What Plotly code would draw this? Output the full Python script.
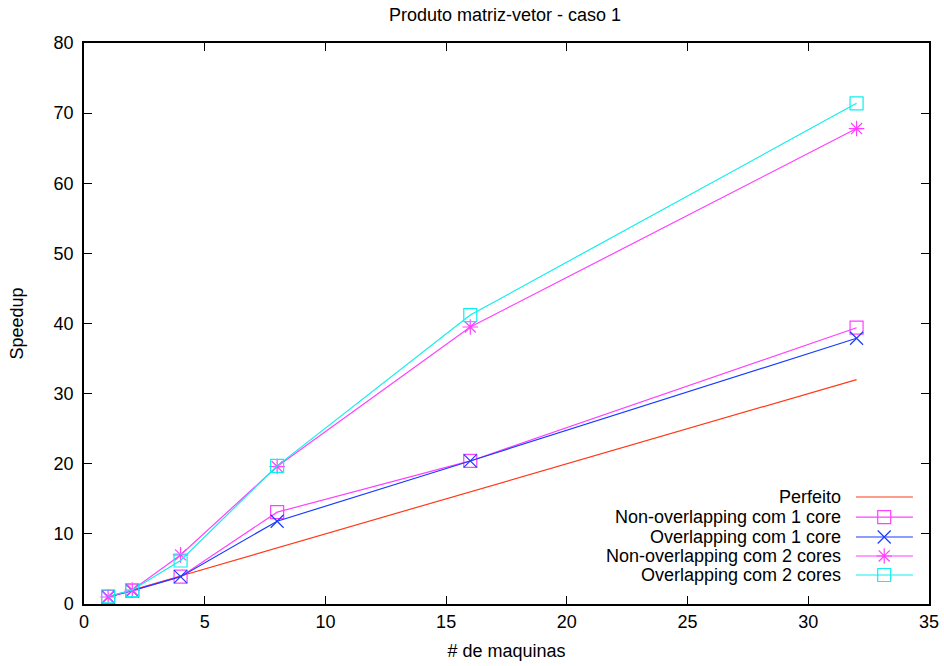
import plotly.graph_objects as go

maquinas = [1, 2, 4, 8, 16, 32]
perfeito = [1, 2, 4, 8, 16, 32]
non_overlap_1 = [1.0, 1.9, 3.9, 13.1, 20.4, 39.4]
overlap_1 = [1.0, 1.9, 3.9, 11.8, 20.4, 37.9]
non_overlap_2 = [1.0, 2.0, 7.0, 19.6, 39.5, 67.8]
overlap_2 = [1.1, 2.0, 6.2, 19.7, 41.2, 71.4]

nomes = ["Perfeito", "Non-overlapping com 1 core", "Overlapping com 1 core",
         "Non-overlapping com 2 cores", "Overlapping com 2 cores"]
valores = [perfeito, non_overlap_1, overlap_1, non_overlap_2, overlap_2]
cores = ["#ff3a1a", "#ff40ff", "#1a3cff", "#ff40ff", "#10eeee"]
simbolos = [None, "square-open", "x-thin-open", "asterisk-open", "square-open"]

FONT = dict(family="Liberation Sans, Arial, Helvetica", size=18, color="black")

fig = go.Figure()
for name, ys, color, sym in zip(nomes, valores, cores, simbolos):
    if sym is None:
        fig.add_trace(go.Scatter(x=maquinas, y=ys, name=name, mode="lines",
                                 line=dict(color=color, width=1.2), showlegend=False))
    else:
        fig.add_trace(go.Scatter(x=maquinas, y=ys, name=name, mode="lines+markers",
                                 line=dict(color=color, width=1.2), showlegend=False,
                                 marker=dict(symbol=sym, size=13, color=color,
                                             line=dict(color=color, width=1.2))))

# custom gnuplot-style legend (text on the left, sample on the right)
leg_x0, leg_xm, leg_x1 = 0.9136, 0.947, 0.981
leg_text_x = 0.898
leg_y = [0.1907, 0.155, 0.1194, 0.0856, 0.0517]
for name, color, sym, yy in zip(nomes, cores, simbolos, leg_y):
    fig.add_trace(go.Scatter(x=[leg_x0, leg_x1], y=[yy, yy], mode="lines",
                             line=dict(color=color, width=1.2), xaxis="x2", yaxis="y2",
                             showlegend=False, hoverinfo="skip"))
    if sym is not None:
        fig.add_trace(go.Scatter(x=[leg_xm], y=[yy], mode="markers",
                                 marker=dict(symbol=sym, size=13, color=color,
                                             line=dict(color=color, width=1.2)),
                                 xaxis="x2", yaxis="y2", showlegend=False, hoverinfo="skip"))
    fig.add_annotation(text=name, x=leg_text_x, y=yy, xref="paper", yref="paper",
                       xanchor="right", yanchor="middle", showarrow=False, font=FONT)

axis_common = dict(showgrid=False, zeroline=False, ticks="inside", ticklen=8,
                   tickwidth=1.2, tickcolor="black", mirror="ticks", showline=True,
                   linecolor="black", linewidth=1.5, automargin=False,
                   tickfont=FONT)

fig.update_layout(
    width=944, height=666,
    paper_bgcolor="white", plot_bgcolor="white",
    margin=dict(l=84, r=15, t=43, b=62),
    title=dict(text="Produto matriz-vetor - caso 1", x=0.535, xanchor="center",
               y=1 - 15 / 666, yanchor="middle", font=FONT),
    xaxis=dict(range=[0, 35], dtick=5, tick0=0, ticklabelstandoff=1,
               title=dict(text="# de maquinas", standoff=13, font=FONT),
               **axis_common),
    yaxis=dict(range=[0, 80], dtick=10, tick0=0, ticklabelstandoff=5,
               title=dict(text="Speedup", standoff=25, font=FONT),
               **axis_common),
    xaxis2=dict(range=[0, 1], overlaying="x", visible=False, fixedrange=True),
    yaxis2=dict(range=[0, 1], overlaying="y", visible=False, fixedrange=True),
    showlegend=False,
)

fig.write_html("out.html", config={"displayModeBar": False},
               post_script="document.body.style.margin='0';")
